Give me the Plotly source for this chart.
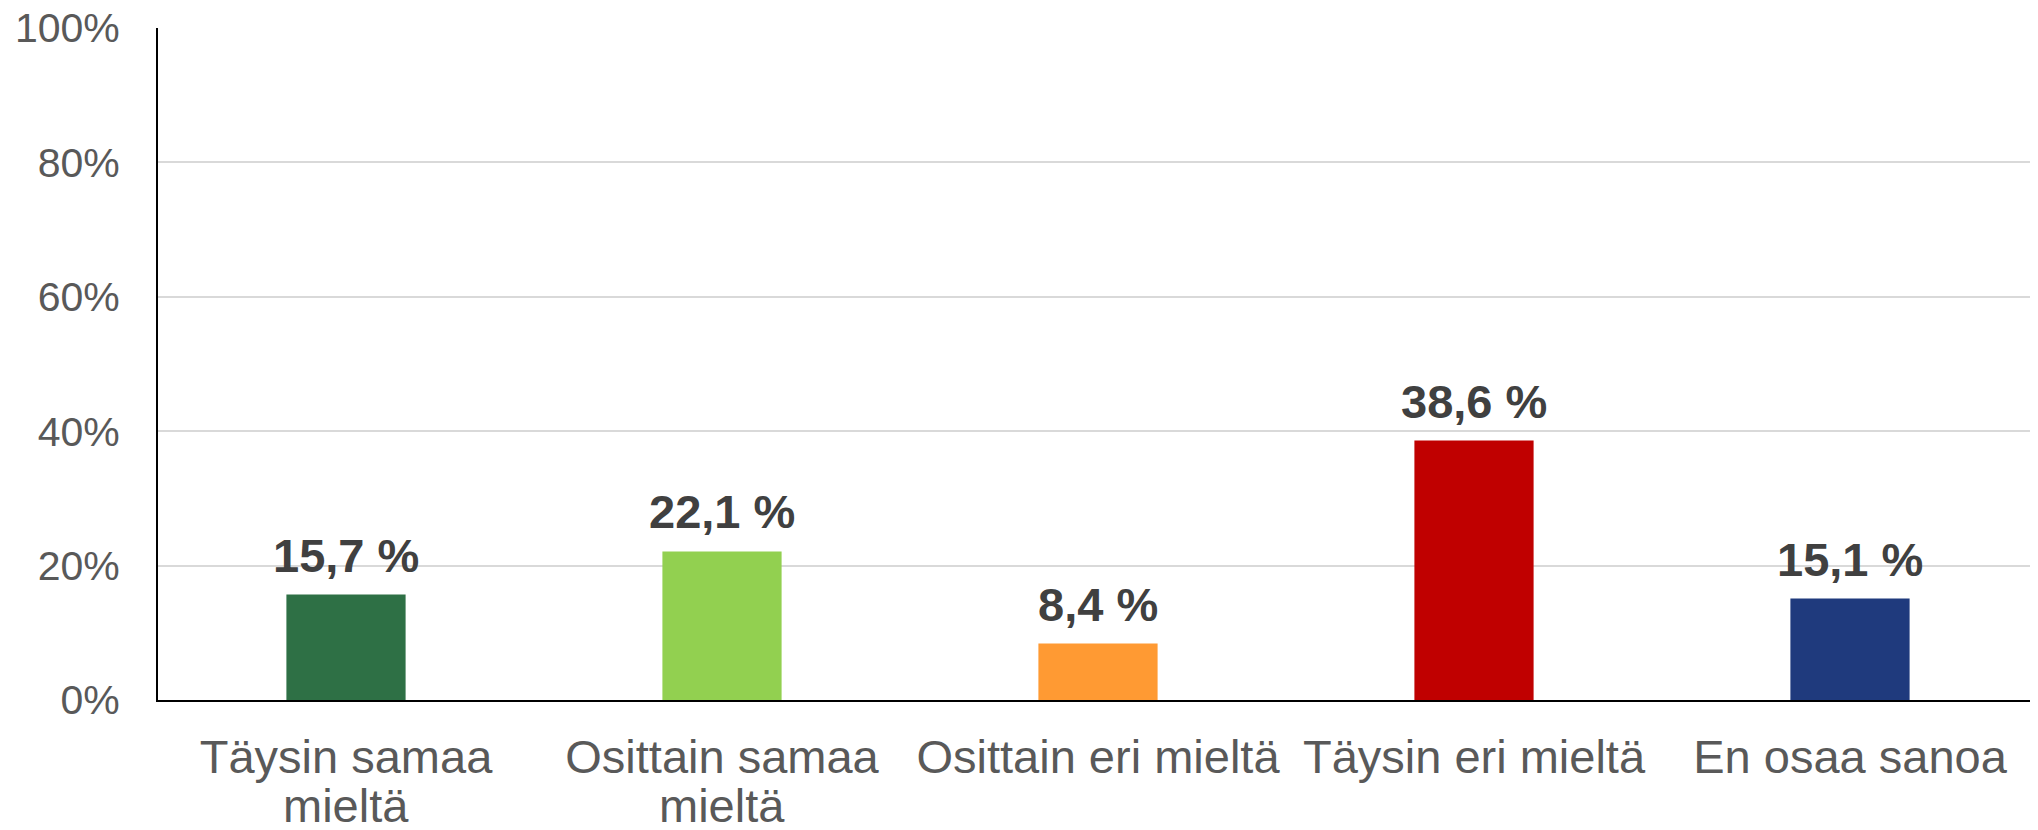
import plotly.graph_objects as go

categories = ["Täysin samaa<br>mieltä", "Osittain samaa<br>mieltä", "Osittain eri mieltä", "Täysin eri mieltä", "En osaa sanoa"]
values = [15.7, 22.1, 8.4, 38.6, 15.1]
colors = ["#2E7045", "#92D050", "#FF9A33", "#C00000", "#1F3A7D"]
tick_vals = [0, 20, 40, 60, 80, 100]
tick_text = ["0%", "20%", "40%", "60%", "80%", "100%"]

labels = [f"{v:.1f}".replace(".", ",") + " %" for v in values]
first_lines = [c.split("<br>")[0] for c in categories]
second_lines = [c.split("<br>")[1] if "<br>" in c else "" for c in categories]

FONT = "Arial, Liberation Sans, sans-serif"

fig = go.Figure(go.Bar(
    x=list(range(len(categories))),
    y=values,
    marker=dict(color=colors, line=dict(width=0)),
    width=0.317,
    hoverinfo="skip",
))

annotations = []
for i, (v, lab) in enumerate(zip(values, labels)):
    annotations.append(dict(
        x=i, y=v, xref="x", yref="y", text=lab, showarrow=False,
        yanchor="bottom", xanchor="center", yshift=11,
        font=dict(family=FONT, size=47, color="#404040", weight="bold"),
    ))
for i, s in enumerate(second_lines):
    if s:
        annotations.append(dict(
            x=i, y=0, xref="x", yref="paper", text=s, showarrow=False,
            yanchor="top", xanchor="center", yshift=-77,
            font=dict(family=FONT, size=47, color="#595959"),
        ))

fig.update_layout(
    width=2030, height=822,
    margin=dict(l=150, r=0, t=20, b=130),
    paper_bgcolor="white", plot_bgcolor="white",
    showlegend=False,
    font=dict(family=FONT),
    annotations=annotations,
    xaxis=dict(
        tickmode="array",
        tickvals=list(range(len(categories))),
        ticktext=first_lines,
        range=[-0.5, len(categories) - 0.5],
        showgrid=False,
        showline=True, linecolor="black", linewidth=2,
        ticks="", ticklabelstandoff=15, automargin=False,
        ticklabeloverflow="allow",
        tickfont=dict(family=FONT, size=47, color="#595959"),
    ),
    yaxis=dict(
        range=[0, 100],
        tickmode="array", tickvals=tick_vals, ticktext=tick_text,
        showgrid=True, gridcolor="#D9D9D9", gridwidth=1.5,
        zeroline=False,
        showline=True, linecolor="black", linewidth=2,
        ticks="", ticklabelstandoff=28, automargin=False,
        ticklabeloverflow="allow",
        tickfont=dict(family=FONT, size=41, color="#595959"),
    ),
)

fig.write_html("out.html")
